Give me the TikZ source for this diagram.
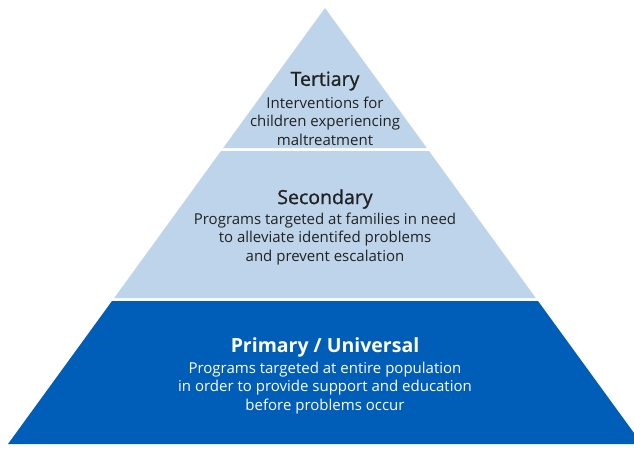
\documentclass[tikz,border=0pt]{standalone}
\usepackage{fontspec}
\setmainfont{Open Sans}
\newfontfamily\semibold[FakeBold=1]{Open Sans}

\definecolor{lightblue}{HTML}{BDD4EA}
\definecolor{darkblue}{HTML}{005DB8}
\definecolor{textgray}{HTML}{222222}

\tikzset{
  title/.style={font=\fontsize{19.5}{22}\selectfont\semibold, inner sep=0pt},
  body/.style={font=\fontsize{15}{18.5}\selectfont, align=center, inner sep=0pt}
}

\begin{document}
\begin{tikzpicture}[x=1pt, y=-1pt]
  \useasboundingbox (0,0) rectangle (634,451);
  \clip (0,0) rectangle (634,451);

  % the three tiers
  \fill[lightblue] (325,8) -- (426.8,148) -- (223.2,148) -- cycle;
  \fill[lightblue] (221,151) -- (429,151) -- (535.8,298) -- (114.2,298) -- cycle;
  \fill[darkblue] (112,301) -- (538,301) -- (642,444) -- (8,444) -- cycle;

  % labels
  \node[title, text=textgray] (T) at (325,81) {Tertiary};
  \node[body, text=textgray] (Tt) at (325,121) {Interventions for\\children experiencing\\maltreatment};

  \node[title, text=textgray] (S) at (325,199) {Secondary};
  \node[body, text=textgray] (St) at (325,239) {Programs targeted at families in need\\to alleviate identifed problems\\and prevent escalation};

  \node[title, text=white, font=\fontsize{19.5}{22}\selectfont\bfseries] (P) at (325,347) {Primary / Universal};
  \node[body, text=white] (Pt) at (325,388) {Programs targeted at entire population\\in order to provide support and education\\before problems occur};
\end{tikzpicture}
\end{document}
